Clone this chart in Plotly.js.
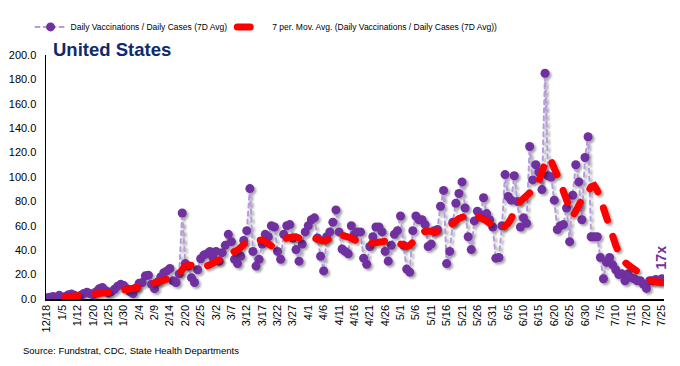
<!DOCTYPE html>
<html>
<head>
<meta charset="utf-8">
<script src="https://cdn.plot.ly/plotly-3.0.1.min.js"></script>
<style>
  html, body { margin: 0; padding: 0; background: #fff; }
  #chart { width: 680px; height: 366px; }
  .scatterlayer .js-line { stroke-linecap: round; }
  .legend .js-line { stroke-linecap: round; }
  .scatterlayer .trace { filter: drop-shadow(2px 2px 1.2px rgba(0,0,0,0.35)); }
</style>
</head>
<body>
<div id="chart"></div>
<script>
// Tick labels on the category axis (one label every 5 observations)
const tickLabels = ["12/18","1/5","1/12","1/20","1/25","1/30","2/4","2/9","2/14","2/20",
  "2/25","3/2","3/7","3/12","3/17","3/22","3/27","4/1","4/6","4/11",
  "4/16","4/21","4/26","5/1","5/6","5/11","5/16","5/21","5/26","5/31",
  "6/5","6/10","6/15","6/20","6/25","6/30","7/5","7/10","7/15","7/20","7/25"];

// Daily Vaccinations / Daily Cases (7D Avg) - one value per observation
const ratio = [
  1, 1.5, 2, 1.5, 3, 1.5, 2, 3.5, 4, 3,
  1.5, 3, 4.5, 5.5, 4.5, 3.5, 6, 8.5, 9.5, 7,
  5, 6, 8, 10.5, 12, 11, 8.5, 6, 4.5, 9,
  13, 13.5, 19, 19.5, 12, 8.5, 14, 18, 21.5, 23,
  25, 15, 13.5, 20.5, 70.5, 29, 27, 17.5, 13.5, 24,
  33, 36, 37, 39, 34, 39, 31, 38, 44, 53,
  47, 32.5, 29, 35, 48, 56, 90.5, 39, 27, 32.5,
  45, 53, 51, 60, 59, 39, 32.5, 53, 60, 61,
  50, 40.5, 31, 45, 55, 60, 65, 66.5, 50, 35,
  23, 51, 55, 63, 73, 55, 41, 39, 37, 60,
  53, 55, 55, 33.5, 28.5, 43, 51, 59, 59, 55,
  39, 31, 44, 53, 56, 68, 44, 24.5, 22, 56,
  68, 65, 65, 61, 43, 45, 56, 57, 76, 89,
  29, 39, 63, 78.5, 86.5, 96, 74.6, 51, 40.5, 64,
  72, 69, 83, 70, 65, 59, 33.5, 34, 60, 102,
  84, 81, 101, 80, 59, 66.5, 62, 125, 97.6, 110,
  104, 89.7, 185, 101, 100, 81, 57, 60, 61, 74.6,
  47, 85, 110, 96, 65, 116, 133, 51, 51, 51,
  34, 16.6, 30, 34, 28, 24, 20, 20.6, 15, 20.6,
  17.5, 16.6, 15, 15, 12, 8.7, 15, 15, 16, 15,
  16.6
];

// 7 per. Mov. Avg.
const movAvg = [
  null, null, null, null, null, null, 1.6, 1.8, 2, 2.2,
  2.3, 2.4, 2.5, 2.7, 3, 3, 3.2, 3.8, 4.5, 5,
  5.3, 5.6, 6, 6.5, 7, 7.5, 8.2, 8.5, 8.5, 8.7,
  9, 9.3, 9.8, 11, 12.5, 13.5, 14, 15, 16, 16.5,
  17, 17.5, 18, 21, 25, 27, 27.5, 28, 27.5, 28,
  28.5, 28, 27, 28, 29.5, 31, 32.5, 34, 36, 37,
  38, 39, 40, 42, 45, 47, 47, 47.5, 48, 49,
  48.5, 47, 45, 43.5, 44, 46, 47.5, 49, 50, 50.5,
  51, 51, 50, 50, 50.5, 51, 51, 50, 49, 48,
  47.5, 48, 50, 52, 53, 53, 52.5, 52, 51, 50,
  48.5, 47.5, 46, 45, 45, 45.5, 46, 46.5, 47, 47.5,
  48, 48, 48, 47, 46, 45, 44, 43, 44, 47,
  50, 52, 54, 55.5, 56, 55.5, 54.5, 55, 56, 57,
  58, 60, 63, 65, 66, 67, 68.5, 70, 70, 69,
  68, 67, 66, 64, 62, 60, 58, 57, 58, 60,
  62, 66, 72, 77, 80, 82, 84, 87, 90, 92,
  97, 105, 111, 116, 113, 107, 102, 96, 88, 80,
  72, 68, 72, 78, 84, 86.5, 88, 92, 93, 89,
  82, 74, 65, 57, 50, 44, 38, 33, 30, 28,
  26, 24, 22, 20, 18, 16.5, 15.5, 14.5, 14, 13.5,
  13.5
];

const obs = ratio.map((_, i) => i);
const tickVals = tickLabels.map((_, k) => k * 5);

const traces = [
  {
    x: obs, y: ratio, type: 'scatter', mode: 'lines+markers',
    name: 'Daily Vaccinations / Daily Cases (7D Avg)',
    line: { color: '#b39ddb', width: 2, dash: '4px,4px' },
    marker: { color: '#7030a0', size: 9 }
  },
  {
    x: obs, y: movAvg, type: 'scatter', mode: 'lines',
    name: '7 per. Mov. Avg. (Daily Vaccinations / Daily Cases (7D Avg))',
    line: { color: '#ff0000', width: 7, dash: '13px,17px' },
    connectgaps: false
  }
];

const baseFont = 'Liberation Sans, Arial, sans-serif';

const layout = {
  width: 680, height: 366,
  margin: { l: 46, r: 16, t: 47, b: 67 },
  paper_bgcolor: '#fff', plot_bgcolor: '#fff',
  font: { family: baseFont, size: 11, color: '#000' },
  showlegend: true,
  legend: {
    orientation: 'h', x: -0.025, xanchor: 'left', y: 1.115, yanchor: 'middle',
    font: { family: baseFont, size: 8.5, color: '#000' },
    itemwidth: 30, tracegroupgap: 0, bgcolor: 'rgba(0,0,0,0)'
  },
  xaxis: {
    range: [-0.3, 200.7], tickmode: 'array', tickvals: tickVals, ticktext: tickLabels,
    tickangle: -90, showgrid: false, zeroline: false,
    showline: true, linecolor: '#000', linewidth: 1.5, ticks: '',
    tickfont: { family: baseFont, size: 11, color: '#000' }
  },
  yaxis: {
    range: [0, 200], dtick: 20, tick0: 0, tickformat: '.1f',
    showgrid: false, zeroline: false, showline: true, linecolor: '#000', linewidth: 1.5,
    ticks: '', ticklabelstandoff: 6, tickfont: { family: baseFont, size: 11, color: '#000' }
  },
  annotations: [
    { text: '<b>United States</b>', xref: 'paper', yref: 'paper', x: 0.008, y: 1.072,
      xanchor: 'left', yanchor: 'top', showarrow: false,
      font: { family: baseFont, size: 18.5, color: '#0f2a6e' } },
    { text: '<b>17x</b>', xref: 'paper', yref: 'paper', x: 0.995, y: 0.17,
      xanchor: 'center', yanchor: 'middle', textangle: -90, showarrow: false,
      font: { family: baseFont, size: 14, color: '#7030a0' } },
    { text: 'Source: Fundstrat, CDC, State Health Departments', xref: 'paper', yref: 'paper',
      x: -0.04, y: -0.21, xanchor: 'left', yanchor: 'middle', showarrow: false,
      font: { family: baseFont, size: 9.5, color: '#000' } }
  ]
};

Plotly.newPlot('chart', traces, layout, { displayModeBar: false, staticPlot: true });
</script>
</body>
</html>
